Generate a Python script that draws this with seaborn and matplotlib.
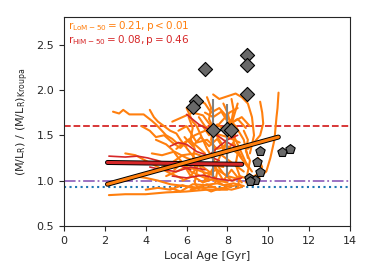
import numpy as np
import pandas as pd
import matplotlib
matplotlib.use("Agg")
import matplotlib.pyplot as plt
import matplotlib.patheffects as pe
import seaborn as sns

# radial tracks (age, M/L ratio) for the low-mass sample
lom_tracks = [
    [(2.4, 1.76), (2.7, 1.74), (2.9, 1.78), (3.2, 1.73), (3.9, 1.73), (4.3, 1.66), (4.5, 1.62), (5.0, 1.5), (5.3, 1.46), (5.5, 1.42), (6.0, 1.38)],
    [(2.2, 0.84), (3.0, 0.85), (4.0, 0.85), (5.0, 0.87), (6.0, 0.88), (7.0, 0.9), (8.0, 0.9)],
    [(10.5, 1.97), (10.45, 1.8), (10.4, 1.7), (10.3, 1.45), (10.1, 1.25), (9.9, 1.1), (9.5, 1.03), (9.0, 1.0)],
    [(9.6, 1.87), (9.7, 1.75), (9.75, 1.63), (9.6, 1.5), (9.3, 1.42), (9.0, 1.35)],
    [(4.2, 1.78), (4.4, 1.7), (4.6, 1.65), (5.2, 1.55), (5.5, 1.52), (5.7, 1.45), (6.2, 1.3), (6.8, 1.15), (7.1, 1.1), (7.5, 1.0)],
    [(4.5, 1.45), (5.0, 1.4), (5.3, 1.34), (5.6, 1.25), (6.2, 1.1), (7.0, 1.02), (8.0, 0.98)],
    [(5.3, 1.65), (5.8, 1.7), (6.3, 1.75), (6.8, 1.72), (7.2, 1.6), (7.4, 1.52), (7.6, 1.45), (8.0, 1.3)],
    [(7.3, 1.95), (7.6, 1.9), (8.0, 1.93), (8.4, 1.96), (8.7, 1.92), (9.0, 1.85), (9.2, 1.7), (9.3, 1.5), (9.1, 1.3)],
    [(5.8, 1.0), (6.3, 1.05), (6.8, 0.98), (7.3, 1.02), (7.8, 0.95), (8.3, 0.97), (8.8, 0.94)],
    [(3.4, 1.05), (4.0, 1.03), (4.6, 1.0), (5.2, 0.96), (5.9, 0.94), (6.6, 0.92), (7.4, 0.93)],
    [(6.0, 1.8), (6.3, 1.65), (6.5, 1.6), (6.7, 1.5), (7.0, 1.35), (7.4, 1.2), (7.8, 1.08), (8.2, 1.0)],
    [(8.5, 1.85), (8.3, 1.7), (8.1, 1.55), (7.9, 1.4), (7.6, 1.25), (7.2, 1.1), (6.8, 0.98)],
    [(5.5, 1.35), (5.9, 1.42), (6.4, 1.5), (6.9, 1.55), (7.4, 1.52), (8.0, 1.48), (8.6, 1.42)],
    [(4.8, 1.15), (5.3, 1.2), (5.8, 1.28), (6.4, 1.3), (7.0, 1.25), (7.6, 1.3), (8.2, 1.2), (8.8, 1.1)],
    [(6.5, 1.9), (6.9, 1.85), (7.2, 1.75), (7.6, 1.8), (8.0, 1.7), (8.4, 1.6), (8.8, 1.45), (9.0, 1.25)],
    [(5.0, 1.05), (5.5, 1.1), (6.0, 1.15), (6.5, 1.12), (7.0, 1.08), (7.5, 1.12), (8.0, 1.05), (8.5, 1.02)],
    [(9.5, 1.25), (9.7, 1.15), (9.4, 1.06), (9.0, 1.02), (8.6, 1.05), (8.3, 1.0)],
    [(6.2, 0.9), (6.7, 0.93), (7.2, 0.88), (7.7, 0.92), (8.2, 0.9), (8.7, 0.93)],
    [(4.3, 1.3), (4.8, 1.28), (5.4, 1.32), (6.0, 1.25), (6.6, 1.2), (7.2, 1.18), (7.8, 1.15)],
    [(6.8, 1.6), (7.1, 1.5), (7.5, 1.62), (7.9, 1.55), (8.3, 1.65), (8.7, 1.7), (9.1, 1.6)],
    [(5.6, 1.55), (6.0, 1.6), (6.5, 1.42), (7.0, 1.45), (7.5, 1.35), (8.0, 1.38), (8.5, 1.3), (9.0, 1.15)],
    [(3.0, 1.3), (3.5, 1.28), (4.0, 1.22), (4.6, 1.15), (5.2, 1.08), (5.8, 1.02)],
    [(6.6, 1.7), (6.9, 1.6), (7.3, 1.55), (7.7, 1.65), (8.1, 1.75), (8.5, 1.8)],
    [(7.8, 1.85), (8.0, 1.75), (8.3, 1.5), (8.6, 1.35), (8.9, 1.2), (9.2, 1.1)],
    [(5.2, 0.92), (5.7, 0.88), (6.3, 0.96), (6.9, 0.95), (7.5, 0.97), (8.1, 0.93), (8.6, 0.96)],
    [(3.8, 1.6), (4.2, 1.55), (4.5, 1.48), (4.9, 1.5), (5.3, 1.42), (5.7, 1.36), (6.1, 1.45), (6.5, 1.38), (6.9, 1.3)],
    [(7.0, 1.92), (7.2, 1.8), (7.1, 1.68), (7.3, 1.58), (7.2, 1.45), (7.4, 1.35), (7.3, 1.22), (7.5, 1.1), (7.4, 0.98)],
    [(8.2, 1.9), (8.3, 1.78), (8.2, 1.66), (8.4, 1.55), (8.3, 1.42), (8.5, 1.3), (8.4, 1.18), (8.6, 1.05), (8.5, 0.92)],
    [(6.1, 1.7), (6.3, 1.58), (6.2, 1.46), (6.4, 1.35), (6.3, 1.22), (6.5, 1.1), (6.4, 0.98), (6.6, 0.9)],
    [(5.4, 1.12), (5.8, 1.2), (6.2, 1.05), (6.6, 1.18), (7.0, 1.02), (7.4, 1.15), (7.8, 1.0), (8.2, 1.12), (8.7, 0.98)],
    [(5.9, 1.48), (6.3, 1.38), (6.7, 1.48), (7.1, 1.38), (7.5, 1.46), (7.9, 1.32), (8.3, 1.42), (8.7, 1.25)],
    [(4.0, 0.9), (4.6, 0.92), (5.2, 0.9), (5.8, 0.95), (6.4, 0.91), (7.0, 0.96), (7.6, 0.9), (8.2, 0.95)],
    [(8.8, 1.55), (9.0, 1.45), (8.9, 1.33), (9.1, 1.22), (9.0, 1.1), (8.9, 0.98)],
    [(6.9, 1.75), (7.3, 1.7), (7.7, 1.76), (8.1, 1.62), (8.5, 1.68), (8.9, 1.58)],
]

# radial tracks for the high-mass sample
him_tracks = [
    [(2.2, 1.27), (3.0, 1.26), (3.6, 1.27), (4.1, 1.25), (4.6, 1.22), (5.0, 1.19), (5.6, 1.17), (6.2, 1.12)],
    [(6.0, 1.73), (6.6, 1.62), (7.2, 1.55), (7.8, 1.45), (8.6, 1.34)],
    [(5.2, 1.38), (5.6, 1.42), (6.0, 1.4), (6.5, 1.32), (7.0, 1.28), (7.6, 1.22)],
    [(5.3, 1.05), (6.0, 1.03), (6.8, 1.06), (7.5, 1.02), (8.2, 1.0), (8.7, 1.03)],
    [(7.2, 1.3), (7.6, 1.38), (8.0, 1.45), (8.5, 1.5)],
    [(4.2, 1.15), (4.8, 1.12), (5.5, 1.1), (6.2, 1.15), (6.9, 1.12)],
]

# literature points
diamond_age = [6.91, 8.94, 8.94, 8.94, 6.47, 6.31, 7.27, 7.98, 8.15]
diamond_ml = [2.23, 2.39, 2.27, 1.96, 1.88, 1.81, 1.56, 1.57, 1.56]
err_age = [7.27, 7.98]
err_ml = [1.47, 1.44]
err_size = [0.43, 0.40]

pent_age = [9.61, 9.43, 9.58, 9.07, 9.37, 9.10, 10.68, 11.06]
pent_ml = [1.33, 1.21, 1.09, 1.03, 1.01, 1.00, 1.32, 1.35]

# linear fits
fit_lom_age = [2.13, 10.49]
fit_lom_ml = [0.96, 1.48]
fit_him_age = [2.13, 8.70]
fit_him_ml = [1.20, 1.18]

# reference levels
ref_salpeter = 1.6
ref_kroupa = 1.0
ref_chabrier = 0.93


def tracks_frame(tracks):
    rows = []
    for i, tr in enumerate(tracks):
        for x, y in tr:
            rows.append({"track": i, "age": x, "ml": y})
    return pd.DataFrame(rows)


sns.set_theme(style="ticks")
plt.rcParams["font.family"] = ["DejaVu Sans"]
plt.rcParams["mathtext.fontset"] = "dejavusans"

fig = plt.figure(figsize=(3.74, 2.8), dpi=100)
ax = fig.add_axes([0.171, 0.193, 0.765, 0.745])

lom = tracks_frame(lom_tracks)
him = tracks_frame(him_tracks)
sns.lineplot(data=lom, x="age", y="ml", units="track", estimator=None, sort=False,
             color="tab:orange", lw=1.5, ax=ax, zorder=2)
sns.lineplot(data=him, x="age", y="ml", units="track", estimator=None, sort=False,
             color="tab:red", lw=1.2, ax=ax, zorder=2.5)

ax.axhline(ref_salpeter, color="tab:red", ls="--", lw=1.3, zorder=1)
ax.axhline(ref_kroupa, color="tab:purple", ls="-.", lw=1.3, zorder=1)
ax.axhline(ref_chabrier, color="tab:blue", ls=":", lw=1.5, zorder=1)

outline = [pe.Stroke(linewidth=3.6, foreground="black"), pe.Normal()]
ax.plot(fit_him_age, fit_him_ml, color="tab:red", lw=2.2, path_effects=outline, zorder=4)
ax.plot(fit_lom_age, fit_lom_ml, color="tab:orange", lw=2.2, path_effects=outline, zorder=4)

ax.errorbar(err_age, err_ml, yerr=err_size, fmt="none", ecolor="gray", lw=1.5, zorder=3)
sns.scatterplot(x=diamond_age, y=diamond_ml, marker="D", s=52, color="dimgray",
                edgecolor="black", linewidth=0.8, ax=ax, zorder=5)
sns.scatterplot(x=pent_age, y=pent_ml, marker="p", s=50, color="dimgray",
                edgecolor="black", linewidth=0.8, ax=ax, zorder=5)

ax.text(0.015, 0.99, r"$\rm r_{LoM-50} = 0.21, p < 0.01$", color="tab:orange",
        fontsize=7.5, transform=ax.transAxes, va="top", ha="left")
ax.text(0.015, 0.925, r"$\rm r_{HiM-50} = 0.08, p = 0.46$", color="tab:red",
        fontsize=7.5, transform=ax.transAxes, va="top", ha="left")

ax.set_xlim(0, 14)
ax.set_ylim(0.5, 2.8)
ax.set_xticks(range(0, 15, 2))
ax.set_yticks([0.5, 1.0, 1.5, 2.0, 2.5])
ax.tick_params(labelsize=8, length=3.5, width=0.8)
for s in ax.spines.values():
    s.set_linewidth(0.8)
ax.set_xlabel("Local Age [Gyr]", fontsize=8)
ax.set_ylabel(r"$\rm (M/L_R)\ /\ (M/L_R)_{Kroupa}$", fontsize=8)

fig.savefig("out.png", dpi=100)
